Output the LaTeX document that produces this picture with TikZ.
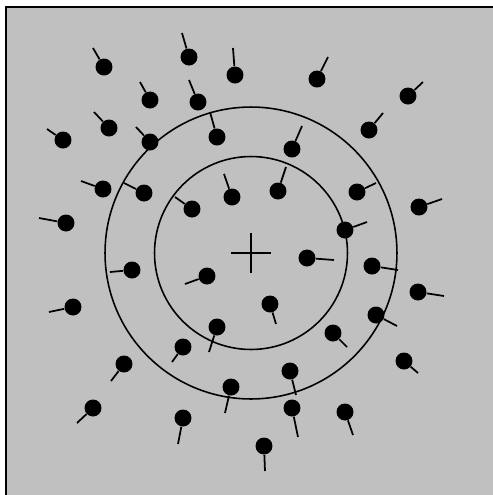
\documentclass[tikz,border=0pt]{standalone}
\usepackage{tikz}
\definecolor{panelgray}{RGB}{192, 192, 192}

\begin{document}
\begin{tikzpicture}[x=0.02cm, y=-0.02cm,
    dot/.style={circle, fill=black, inner sep=0pt, minimum size=0.34cm},
    tail/.style={line width=1pt, black},
    ring/.style={line width=0.9pt, black},
    frame/.style={line width=1.4pt, black}
  ]
    \useasboundingbox (0,0) rectangle (493,495);
    \fill[panelgray] (6,7) rectangle (493,495);
    \draw[frame] (6,495) -- (6,7) -- (493,7);

    % centre, rings and cross
    \coordinate (ctr) at (251,253);
    \draw[ring] (ctr) circle [radius=1.93cm];
    \draw[ring] (ctr) circle [radius=2.92cm];
    \draw[ring] (ctr) ++(-20,0) -- ++(40,0);
    \draw[ring] (ctr) ++(0,-20) -- ++(0,40);

    % dots: number / dot position / tail end
    \foreach \i/\x/\y/\tx/\ty in {
        1/104/67/93/48, 2/189/57/182/33, 3/235/75/233/48,
        4/150/100/140/82, 5/198/102/189/80, 6/109/128/94/112,
        7/63/140/47/129, 8/150/142/136/127, 9/217/137/210/112,
        10/103/189/81/181, 11/144/193/124/183, 12/192/209/175/197,
        13/232/197/224/174, 14/66/223/39/218, 15/317/79/328/57,
        16/408/96/423/82, 17/369/130/383/113, 18/292/149/302/126,
        19/278/191/286/167, 20/357/192/376/183, 21/419/207/442/199,
        22/345/230/367/222, 23/132/270/110/272, 24/207/276/185/284,
        25/73/307/49/312, 26/217/327/209/352, 27/183/347/172/362,
        28/124/364/111/381, 29/231/387/225/413, 30/93/408/77/423,
        31/183/418/178/444, 32/307/258/334/260, 33/372/266/398/270,
        34/418/292/444/296, 35/270/304/276/324, 36/376/315/397/326,
        37/333/333/347/347, 38/404/361/418/373, 39/290/371/296/395,
        40/292/408/298/437, 41/345/412/353/435, 42/264/446/265/471} {
      \node[dot] (d\i) at (\x,\y) {};
      \coordinate (t\i) at (\tx,\ty);
      \draw[tail] (d\i) -- (t\i);
    }
  \end{tikzpicture}
\end{document}
